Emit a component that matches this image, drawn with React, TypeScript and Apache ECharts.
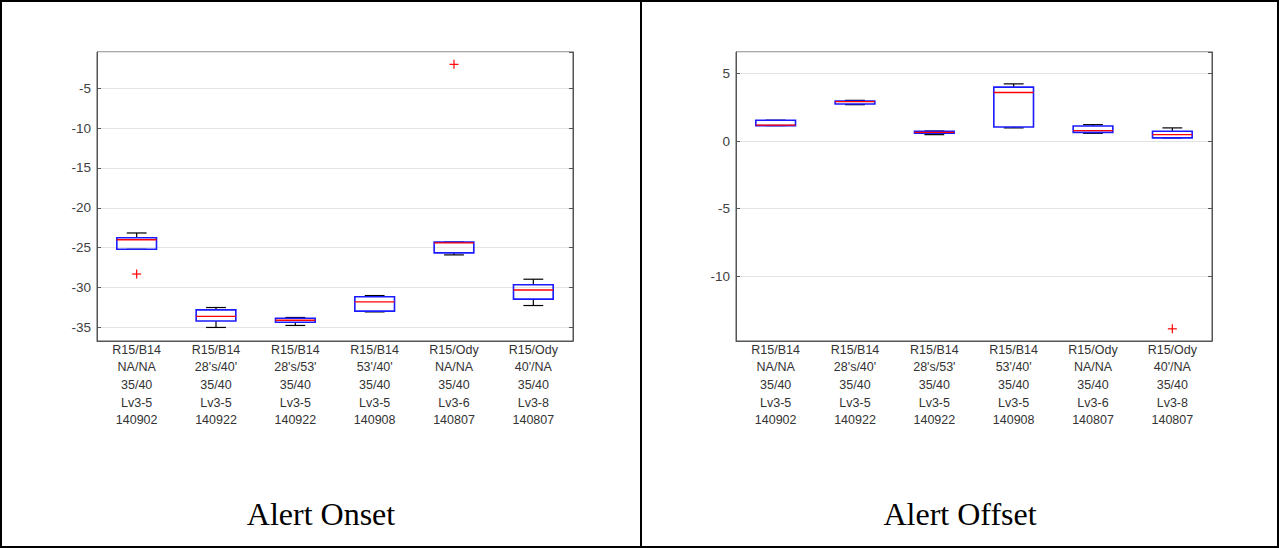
import React, { useEffect, useRef } from "react";
import * as echarts from "echarts";

const categories = [
  "R15/B14\nNA/NA\n35/40\nLv3-5\n140902",
  "R15/B14\n28's/40'\n35/40\nLv3-5\n140922",
  "R15/B14\n28's/53'\n35/40\nLv3-5\n140922",
  "R15/B14\n53'/40'\n35/40\nLv3-5\n140908",
  "R15/Ody\nNA/NA\n35/40\nLv3-6\n140807",
  "R15/Ody\n40'/NA\n35/40\nLv3-8\n140807",
];

// [lower whisker, Q1, median, Q3, upper whisker]
const onsetBoxes = [
  [-25.2, -25.2, -24.0, -23.75, -23.15],
  [-35.0, -34.2, -33.6, -32.8, -32.5],
  [-34.75, -34.35, -34.1, -33.85, -33.75],
  [-33.05, -32.95, -31.8, -31.15, -31.0],
  [-25.9, -25.65, -24.4, -24.3, -24.3],
  [-32.25, -31.45, -30.3, -29.65, -28.95],
];
const onsetOutliers = [
  [0, -28.3],
  [4, -2.0],
];

const offsetBoxes = [
  [1.15, 1.15, 1.18, 1.55, 1.55],
  [2.7, 2.75, 2.93, 2.96, 3.02],
  [0.48, 0.58, 0.65, 0.73, 0.75],
  [0.98, 1.05, 3.6, 4.0, 4.24],
  [0.58, 0.65, 0.78, 1.12, 1.22],
  [0.24, 0.24, 0.48, 0.73, 0.98],
];
const offsetOutliers = [[5, -13.9]];

const onsetRange = [-36.7, -0.45];
const offsetRange = [-14.8, 6.6];

const titles = ["Alert Onset", "Alert Offset"];

function renderBox(params: any, api: any) {
  const x = api.value(0);
  const lo = api.coord([x, api.value(1)]);
  const q1 = api.coord([x, api.value(2)]);
  const med = api.coord([x, api.value(3)]);
  const q3 = api.coord([x, api.value(4)]);
  const hi = api.coord([x, api.value(5)]);
  const band = api.size([1, 0])[0];
  const bw = band * 0.5;
  const cw = band * 0.25;
  const cx = lo[0];
  const blk = { stroke: "#000", lineWidth: 1.2 };
  return {
    type: "group",
    children: [
      { type: "line", shape: { x1: cx, y1: hi[1], x2: cx, y2: q3[1] }, style: blk },
      { type: "line", shape: { x1: cx, y1: q1[1], x2: cx, y2: lo[1] }, style: blk },
      { type: "line", shape: { x1: cx - cw / 2, y1: hi[1], x2: cx + cw / 2, y2: hi[1] }, style: blk },
      { type: "line", shape: { x1: cx - cw / 2, y1: lo[1], x2: cx + cw / 2, y2: lo[1] }, style: blk },
      {
        type: "rect",
        shape: { x: cx - bw / 2, y: q3[1], width: bw, height: Math.max(q1[1] - q3[1], 0.5) },
        style: { fill: "none", stroke: "#1a1aff", lineWidth: 1.6 },
      },
      {
        type: "line",
        shape: { x1: cx - bw / 2, y1: med[1], x2: cx + bw / 2, y2: med[1] },
        style: { stroke: "#ff0000", lineWidth: 1.3 },
      },
    ],
  };
}

function renderOutlier(params: any, api: any) {
  const p = api.coord([api.value(0), api.value(1)]);
  const s = 4.5;
  const st = { stroke: "#ff0000", lineWidth: 1.2 };
  return {
    type: "group",
    children: [
      { type: "line", shape: { x1: p[0] - s, y1: p[1], x2: p[0] + s, y2: p[1] }, style: st },
      { type: "line", shape: { x1: p[0], y1: p[1] - s, x2: p[0], y2: p[1] + s }, style: st },
    ],
  };
}

function makeAxes(idx: number, range: number[], split: number) {
  const fmt = (v: number) => (Math.abs(v / 5 - Math.round(v / 5)) < 1e-6 ? String(Math.round(v)) : "");
  return [
    {
      type: "value",
      gridIndex: idx,
      min: range[0],
      max: range[1],
      splitNumber: split,
      axisLine: { show: true, onZero: false, lineStyle: { color: "#555", width: 1 } },
      axisTick: { show: true, inside: true, length: 4, lineStyle: { color: "#555" } },
      axisLabel: {
        show: true,
        margin: 6,
        fontSize: 13.5,
        color: "#404040",
        fontFamily: "Liberation Sans, Arial, sans-serif",
        showMinLabel: false,
        showMaxLabel: false,
        formatter: fmt,
      },
      splitLine: { show: true, lineStyle: { color: "#e3e3e3", width: 1 } },
    },
    {
      type: "value",
      gridIndex: idx,
      position: "right",
      min: range[0],
      max: range[1],
      splitNumber: split,
      axisLine: { show: true, onZero: false, lineStyle: { color: "#555", width: 1 } },
      axisTick: { show: true, inside: true, length: 4, lineStyle: { color: "#555" } },
      axisLabel: { show: false },
      splitLine: { show: false },
    },
  ];
}

function makeXAxis(idx: number) {
  return {
    type: "category",
    gridIndex: idx,
    data: categories,
    boundaryGap: true,
    axisLine: { show: true, onZero: false, lineStyle: { color: "#555", width: 1 } },
    axisTick: { show: false },
    axisLabel: {
      show: true,
      interval: 0,
      margin: 0,
      fontSize: 12.5,
      lineHeight: 17.6,
      color: "#333",
      fontFamily: "Liberation Sans, Arial, sans-serif",
      align: "center",
    },
    splitLine: { show: false },
  };
}

export default function App() {
  const ref = useRef<HTMLDivElement>(null);
  useEffect(() => {
    if (!ref.current) return;
    const chart = echarts.init(ref.current, undefined, { renderer: "svg" });
    const boxData = (arr: number[][]) => arr.map((b, i) => [i, ...b]);
    const option: any = {
      animation: false,
      backgroundColor: "#fff",
      grid: [
        { left: 97, top: 52, width: 476, height: 289, show: true, borderColor: "#555", borderWidth: 1, backgroundColor: "transparent" },
        { left: 736, top: 52, width: 476, height: 289, show: true, borderColor: "#555", borderWidth: 1, backgroundColor: "transparent" },
      ],
      xAxis: [makeXAxis(0), makeXAxis(1)],
      yAxis: [...makeAxes(0, onsetRange, 7), ...makeAxes(1, offsetRange, 4)],
      series: [
        { type: "custom", xAxisIndex: 0, yAxisIndex: 0, renderItem: renderBox, data: boxData(onsetBoxes), encode: { x: 0, y: [1, 2, 3, 4, 5] }, clip: false },
        { type: "custom", xAxisIndex: 0, yAxisIndex: 0, renderItem: renderOutlier, data: onsetOutliers, encode: { x: 0, y: 1 } },
        { type: "custom", xAxisIndex: 1, yAxisIndex: 2, renderItem: renderBox, data: boxData(offsetBoxes), encode: { x: 0, y: [1, 2, 3, 4, 5] }, clip: false },
        { type: "custom", xAxisIndex: 1, yAxisIndex: 2, renderItem: renderOutlier, data: offsetOutliers, encode: { x: 0, y: 1 } },
      ],
      graphic: [
        { type: "rect", shape: { x: 1, y: 1, width: 1277, height: 546 }, style: { fill: "none", stroke: "#000", lineWidth: 2 }, z: 100 },
        { type: "line", shape: { x1: 641, y1: 0, x2: 641, y2: 548 }, style: { stroke: "#000", lineWidth: 2 }, z: 100 },
        {
          type: "text",
          x: 321,
          y: 514,
          style: { text: titles[0], fontSize: 32, fontFamily: "Liberation Serif, Times New Roman, serif", fill: "#000", align: "center", verticalAlign: "middle" },
        },
        {
          type: "text",
          x: 960,
          y: 514,
          style: { text: titles[1], fontSize: 32, fontFamily: "Liberation Serif, Times New Roman, serif", fill: "#000", align: "center", verticalAlign: "middle" },
        },
      ],
    };
    chart.setOption(option);
    return () => chart.dispose();
  }, []);
  return (
    <div
      ref={ref}
      style={{ position: "absolute", left: 0, top: 0, width: 1279, height: 548, background: "#fff" }}
    />
  );
}
